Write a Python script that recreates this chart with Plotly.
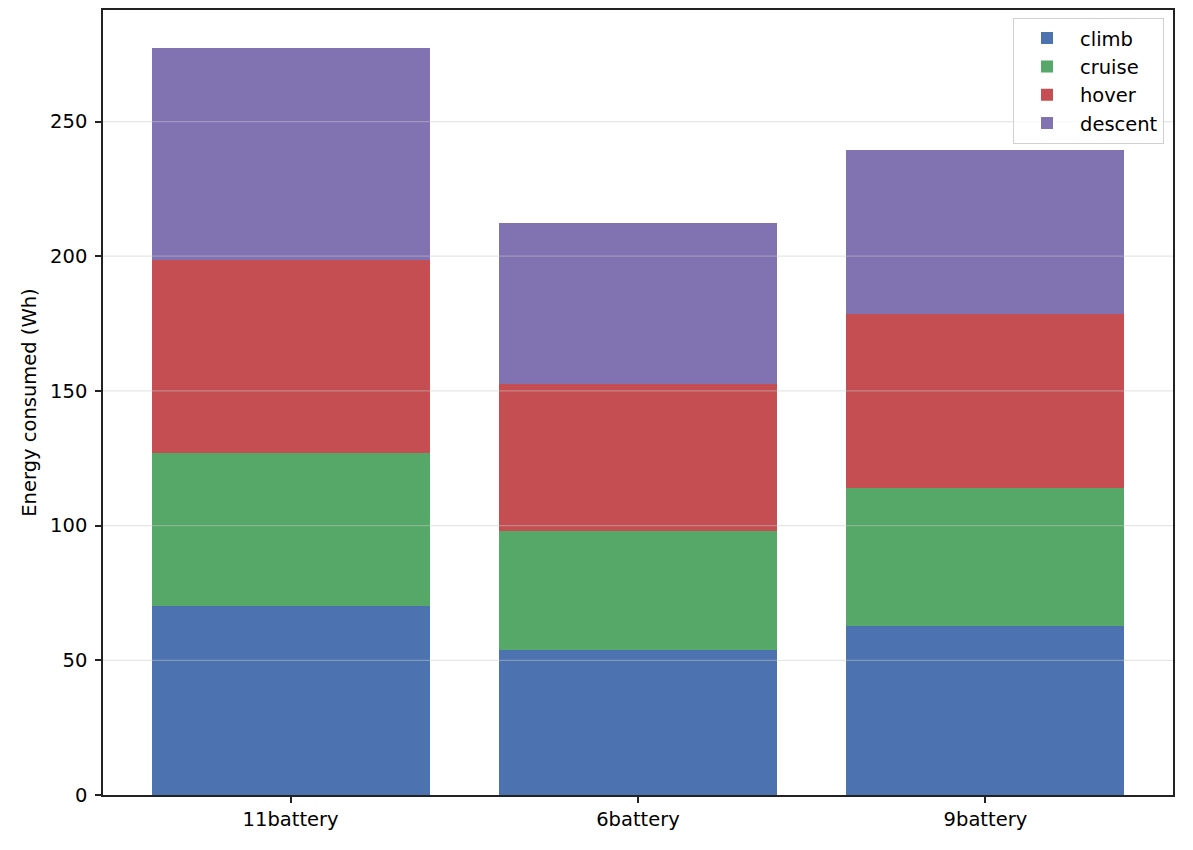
import plotly.graph_objects as go

categories = ["11battery", "6battery", "9battery"]
climb = [70.0, 54.0, 62.9]
cruise = [56.8, 44.0, 51.0]
hover = [71.8, 54.7, 64.7]
descent = [78.8, 59.6, 61.0]
y_ticks = [0, 50, 100, 150, 200, 250]

series = [("climb", climb, "#4C72B0"), ("cruise", cruise, "#55A868"),
          ("hover", hover, "#C44E52"), ("descent", descent, "#8172B2")]

FS = 19.5

fig = go.Figure()
for name, vals, col in series:
    fig.add_trace(go.Bar(x=list(range(len(categories))), y=vals, name=name,
                         legendgroup=name,
                         marker=dict(color=col, line=dict(width=0)), width=0.8))

for t in y_ticks[1:]:
    fig.add_shape(type="line", xref="paper", yref="y", x0=0, x1=1, y0=t, y1=t,
                  line=dict(color="rgba(200,200,200,0.45)", width=1.2), layer="above")

fig.update_layout(
    barmode="stack",
    width=1185, height=842,
    margin=dict(l=95, r=20, t=0, b=55, pad=0),
    plot_bgcolor="white", paper_bgcolor="white",
    font=dict(family="DejaVu Sans", size=FS, color="black"),
    showlegend=True,
    legend=dict(x=0.9916, y=0.99, xanchor="right", yanchor="top",
                bgcolor="rgba(255,255,255,0.8)", bordercolor="#d0d0d0", borderwidth=1,
                font=dict(size=FS), tracegroupgap=8, traceorder="normal",
                itemwidth=56),
    xaxis=dict(range=[-0.54, 2.54], tickmode="array", tickvals=list(range(len(categories))),
               ticktext=categories, showgrid=False, zeroline=False,
               showline=True, mirror=True, linecolor="#222", linewidth=1.5,
               ticks="outside", ticklen=6, tickwidth=1.5, tickcolor="#222",
               tickfont=dict(size=FS)),
    yaxis=dict(range=[0, 291.4], tickmode="array", tickvals=y_ticks,
               showgrid=False, zeroline=False,
               showline=True, mirror=True, linecolor="#222", linewidth=1.5,
               ticks="outside", ticklen=6, tickwidth=1.5, tickcolor="#222",
               tickfont=dict(size=FS), ticklabelstandoff=4,
               title=dict(text="Energy consumed (Wh)", font=dict(size=FS), standoff=8)),
)

fig.write_html("out.html")
